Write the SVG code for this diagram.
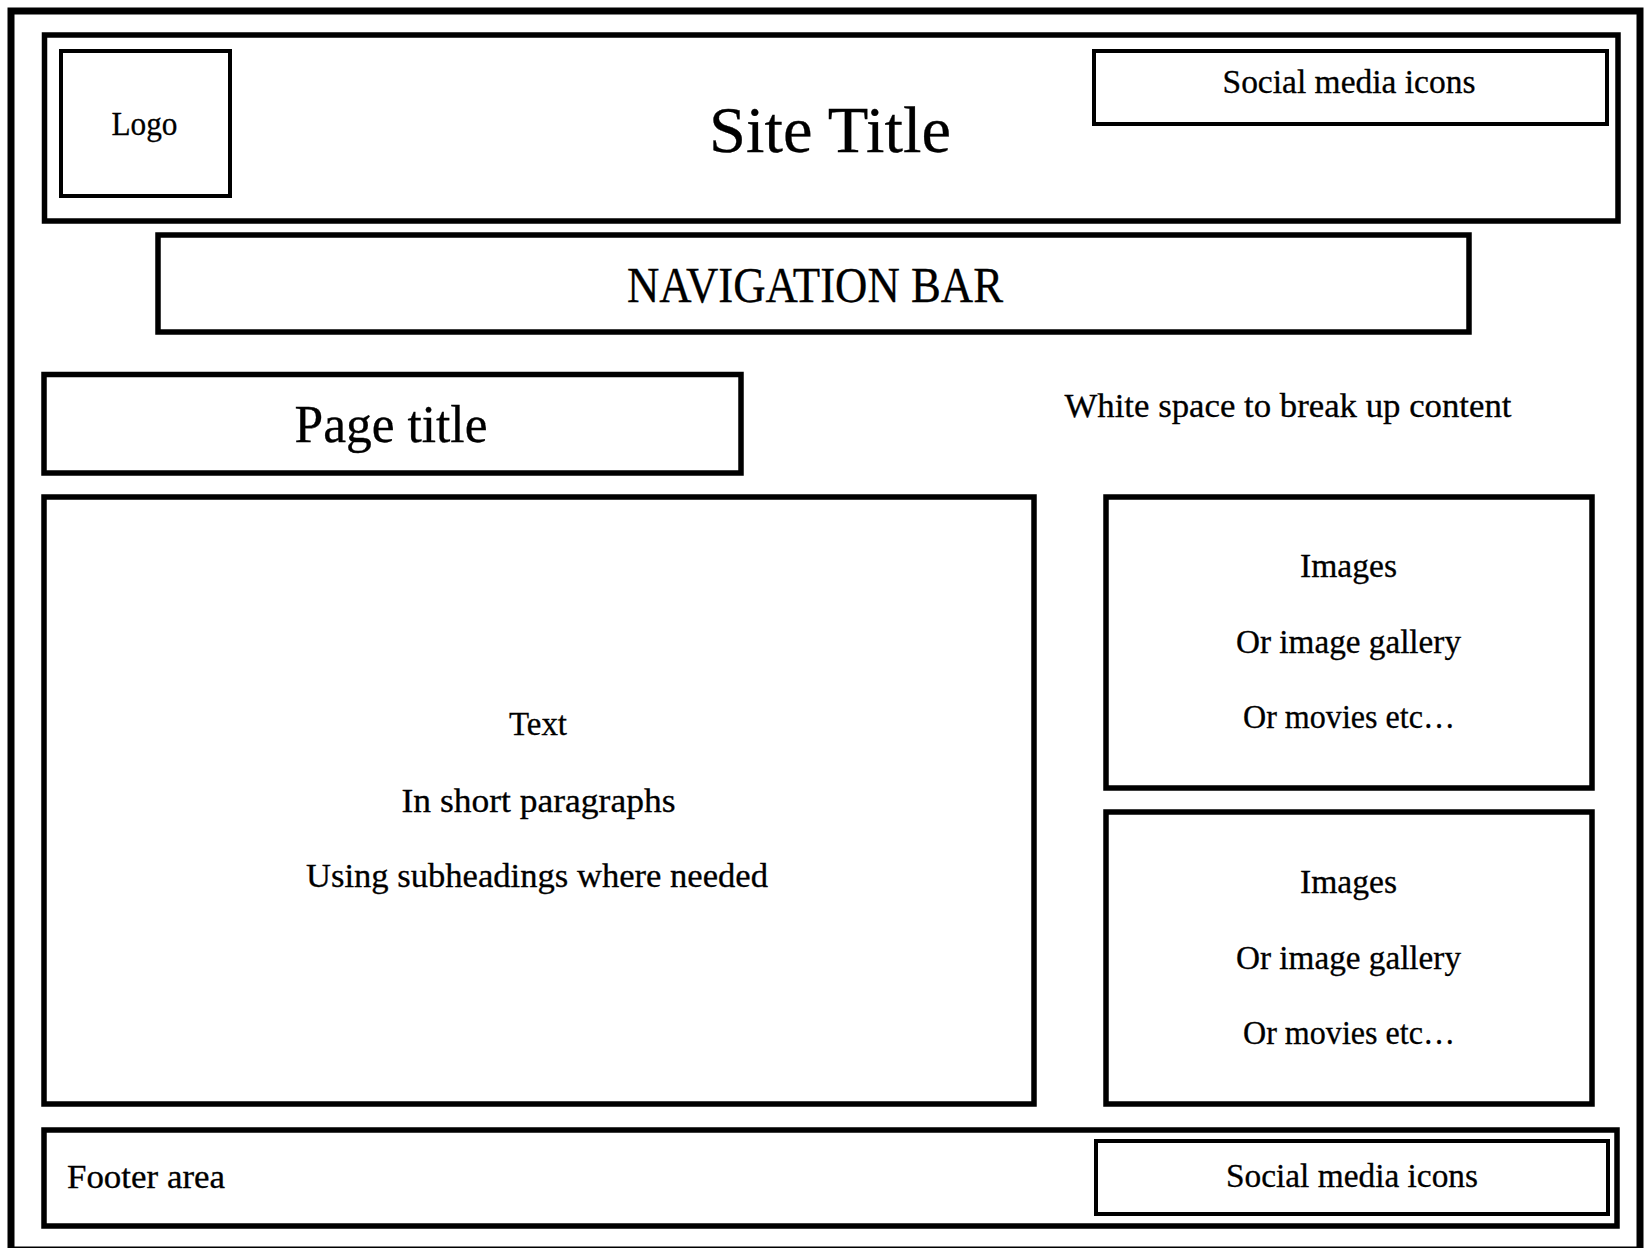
<svg xmlns="http://www.w3.org/2000/svg" width="1647" height="1248" viewBox="0 0 1647 1248">
  <style>
    .box { fill: none; stroke: #000; stroke-linejoin: miter; }
    .thick { stroke-width: 7; }
    .med { stroke-width: 5.5; }
    .thin { stroke-width: 4; }
    .t { font-family: "Liberation Serif", "Times New Roman", serif; fill: #000; stroke: #000; stroke-width: 0.3; }
    .body { font-size: 33px; }
    .mid { text-anchor: middle; }
  </style>
  <rect x="0" y="0" width="1647" height="1248" fill="#fff"/>
  <g id="page-frame">
    <rect class="box thick" x="11" y="11" width="1629" height="1239"/>
  </g>
  <g id="header">
    <rect class="box med" x="44.5" y="35" width="1573.5" height="186"/>
    <text class="t mid" x="830" y="152" font-size="66" textLength="242" lengthAdjust="spacingAndGlyphs">Site Title</text>
  </g>
  <g id="logo">
    <rect class="box thin" x="61" y="51" width="169" height="145"/>
    <text class="t body mid" x="144.5" y="135" textLength="66" lengthAdjust="spacingAndGlyphs">Logo</text>
  </g>
  <g id="social-top">
    <rect class="box thin" x="1094" y="51" width="513" height="73"/>
    <text class="t body mid" x="1349" y="93" textLength="253" lengthAdjust="spacingAndGlyphs">Social media icons</text>
  </g>
  <g id="navigation-bar">
    <rect class="box med" x="158" y="235" width="1311" height="97"/>
    <text class="t mid" x="815" y="302" font-size="50" textLength="376" lengthAdjust="spacingAndGlyphs">NAVIGATION BAR</text>
  </g>
  <g id="page-title">
    <rect class="box med" x="44" y="374.5" width="697" height="98.5"/>
    <text class="t mid" x="391" y="442" font-size="52" textLength="193" lengthAdjust="spacingAndGlyphs">Page title</text>
  </g>
  <g id="white-space-note">
    <text class="t body mid" x="1288" y="417" textLength="447" lengthAdjust="spacingAndGlyphs">White space to break up content</text>
  </g>
  <g id="text-area">
    <rect class="box med" x="44" y="497" width="990" height="607"/>
    <text class="t body mid" x="538" y="735" textLength="58" lengthAdjust="spacingAndGlyphs">Text</text>
    <text class="t body mid" x="538.5" y="812" textLength="274" lengthAdjust="spacingAndGlyphs">In short paragraphs</text>
    <text class="t body mid" x="537" y="887" textLength="462" lengthAdjust="spacingAndGlyphs">Using subheadings where needed</text>
  </g>
  <g id="images-1">
    <rect class="box med" x="1106" y="497" width="486" height="291"/>
    <text class="t body mid" x="1348.5" y="577" textLength="97" lengthAdjust="spacingAndGlyphs">Images</text>
    <text class="t body mid" x="1348.5" y="653" textLength="225" lengthAdjust="spacingAndGlyphs">Or image gallery</text>
    <text class="t body mid" x="1349" y="728" textLength="212" lengthAdjust="spacingAndGlyphs">Or movies etc…</text>
  </g>
  <g id="images-2">
    <rect class="box med" x="1106" y="812" width="486" height="292"/>
    <text class="t body mid" x="1348.5" y="893" textLength="97" lengthAdjust="spacingAndGlyphs">Images</text>
    <text class="t body mid" x="1348.5" y="969" textLength="225" lengthAdjust="spacingAndGlyphs">Or image gallery</text>
    <text class="t body mid" x="1349" y="1044" textLength="212" lengthAdjust="spacingAndGlyphs">Or movies etc…</text>
  </g>
  <g id="footer">
    <rect class="box med" x="44" y="1130" width="1573" height="96"/>
    <text class="t body" x="67" y="1188" textLength="158" lengthAdjust="spacingAndGlyphs">Footer area</text>
  </g>
  <g id="social-bottom">
    <rect class="box thin" x="1096" y="1141" width="512" height="73"/>
    <text class="t body mid" x="1352" y="1187" textLength="252" lengthAdjust="spacingAndGlyphs">Social media icons</text>
  </g>
  <g id="connectors"/>
</svg>
